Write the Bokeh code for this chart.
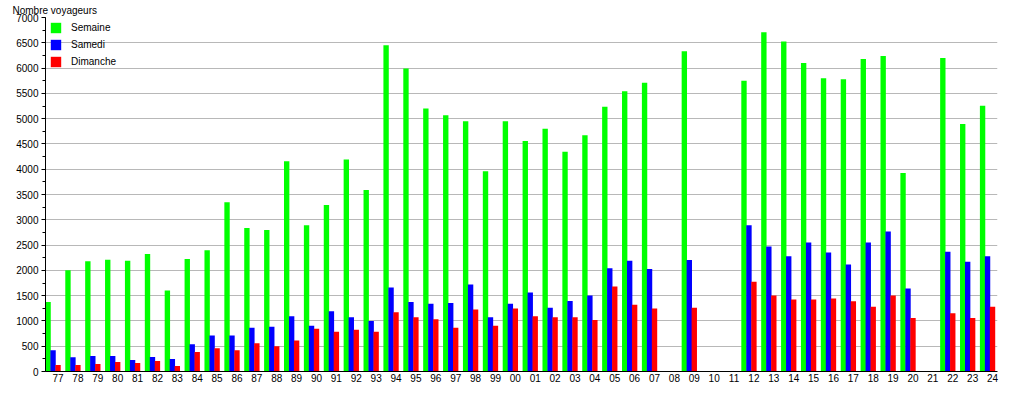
from bokeh.plotting import figure
from bokeh.models import (Range1d, FixedTicker, SingleIntervalTicker, ColumnDataSource,
                          Legend, LegendItem)
from bokeh.transform import dodge
from bokeh.embed import file_html
from bokeh.resources import INLINE

years = ["77", "78", "79", "80", "81", "82", "83", "84", "85", "86", "87", "88", "89", "90", "91",
         "92", "93", "94", "95", "96", "97", "98", "99", "00", "01", "02", "03", "04", "05", "06", "07",
         "08", "09", "10", "11", "12", "13", "14", "15", "16", "17", "18", "19", "20", "21", "22", "23", "24"]

semaine = [1375, 2000, 2180, 2210, 2190, 2325, 1600, 2225, 2400, 3345, 2838, 2800, 4158, 2890, 3290,
           4190, 3590, 6450, 5990, 5200, 5065, 4950, 3962, 4950, 4556, 4800, 4346, 4670, 5237, 5543, 5710,
           0, 6333, 0, 0, 5747, 6710, 6525, 6100, 5800, 5780, 6180, 6240, 3925, 0, 6200, 4894, 5256]

samedi = [422, 280, 305, 305, 225, 285, 245, 540, 710, 710, 865, 885, 1094, 905, 1190,
          1075, 1000, 1660, 1375, 1340, 1355, 1718, 1075, 1340, 1564, 1260, 1395, 1505, 2043, 2190, 2025,
          0, 2207, 0, 0, 2890, 2470, 2280, 2550, 2354, 2115, 2550, 2768, 1640, 0, 2370, 2170, 2280]

dimanche = [130, 130, 150, 190, 170, 210, 110, 385, 460, 420, 558, 500, 615, 845, 785,
            827, 785, 1170, 1075, 1035, 865, 1225, 905, 1245, 1094, 1075, 1075, 1020, 1680, 1320, 1245,
            0, 1262, 0, 0, 1775, 1505, 1425, 1425, 1445, 1390, 1280, 1505, 1056, 0, 1150, 1056, 1280]

series_names = ["Semaine", "Samedi", "Dimanche"]
y_title = "Nombre voyageurs"

FONT = "Liberation Sans"

src = ColumnDataSource(dict(x=list(range(len(years))), semaine=semaine,
                            samedi=samedi, dimanche=dimanche))

W, H = 999, 384
BL, BR, BT, BB = 45, 2, 17, 13

p = figure(width=W, height=H, output_backend="svg", toolbar_location=None,
           x_range=Range1d(-0.63, 47.25), y_range=Range1d(0, 7000),
           min_border_left=BL, min_border_right=BR, min_border_top=BT, min_border_bottom=BB)
p.outline_line_color = None
p.background_fill_color = "white"
p.border_fill_color = "white"

p.title.text = y_title
p.title.align = "left"
p.title.offset = -33
p.title.standoff = 4
p.title.text_font = FONT
p.title.text_font_size = "10px"
p.title.text_font_style = "normal"
p.title.text_color = "black"

bw = 0.27
r1 = p.vbar(x=dodge("x", -0.5, range=p.x_range), top="semaine", width=bw, source=src,
            fill_color="#00ff00", line_color=None)
r2 = p.vbar(x=dodge("x", -0.25, range=p.x_range), top="samedi", width=bw, source=src,
            fill_color="#0000ff", line_color=None)
r3 = p.vbar(x=dodge("x", 0.0, range=p.x_range), top="dimanche", width=bw, source=src,
            fill_color="#ff0000", line_color=None)

# axes
p.xaxis.ticker = FixedTicker(ticks=list(range(len(years))))
p.xaxis.major_label_overrides = {i: y for i, y in enumerate(years)}
p.xaxis.major_tick_out = 0
p.xaxis.major_tick_in = 0
p.xaxis.minor_tick_out = 0
p.xaxis.minor_tick_in = 0
p.xaxis.major_label_standoff = 2

p.yaxis.ticker = SingleIntervalTicker(interval=500, num_minor_ticks=2)
p.yaxis.major_tick_out = 4
p.yaxis.major_tick_in = 0
p.yaxis.minor_tick_out = 3
p.yaxis.minor_tick_in = 0
p.yaxis.major_label_standoff = 3

for ax in (p.xaxis, p.yaxis):
    ax.axis_line_color = "black"
    ax.major_tick_line_color = "black"
    ax.minor_tick_line_color = "black"
    ax.major_label_text_font = FONT
    ax.major_label_text_font_size = "10px"
    ax.major_label_text_color = "black"

p.xgrid.visible = False
p.ygrid.ticker = SingleIntervalTicker(interval=500)
p.ygrid.grid_line_color = "#b8b8b8"
p.ygrid.grid_line_width = 1

legend = Legend(items=[LegendItem(label=series_names[0], renderers=[r1]),
                       LegendItem(label=series_names[1], renderers=[r2]),
                       LegendItem(label=series_names[2], renderers=[r3])],
                location="top_left", margin=0, padding=4,
                border_line_alpha=0, background_fill_alpha=0,
                glyph_width=13, glyph_height=13, label_height=13, spacing=4,
                label_standoff=9, label_text_font=FONT, label_text_font_size="10px",
                label_text_color="black")
p.add_layout(legend)

open("out.html", "w").write(file_html(p, INLINE))
